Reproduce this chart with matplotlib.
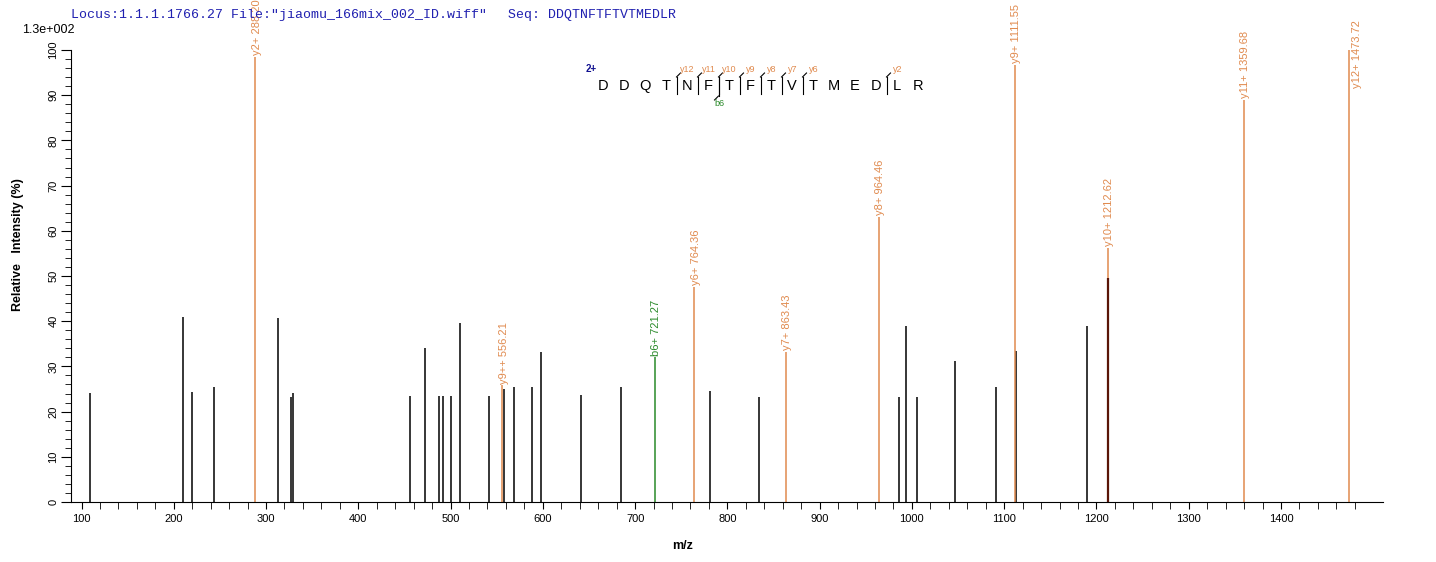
import numpy as np
import matplotlib
matplotlib.use('Agg')
from matplotlib import pyplot as plt

plt.rcParams['font.family'] = ['Liberation Sans', 'DejaVu Sans']

# unassigned peaks (m/z, relative intensity %)
other_mz = [109.2, 210.0, 219.7, 243.6, 312.9, 327.0, 329.2, 456.0, 472.3, 487.4,
            491.8, 500.4, 510.2, 541.6, 557.5, 568.7, 588.0, 598.0, 641.4, 684.7,
            781.0, 834.0, 986.0, 993.6, 1005.5, 1046.7, 1091.0, 1112.5, 1189.8]
other_int = [24.1, 41.0, 24.3, 25.4, 40.7, 23.2, 24.1, 23.4, 34.0, 23.4,
             23.4, 23.4, 39.6, 23.4, 25.0, 25.4, 25.4, 33.2, 23.6, 25.4,
             24.6, 23.2, 23.2, 39.0, 23.2, 31.2, 25.4, 33.4, 39.0]

# assigned fragment ions
ion_mz = [288.20, 556.21, 721.27, 764.36, 863.43, 964.46, 1111.55, 1212.62, 1359.68, 1473.72]
ion_int = [98.5, 25.8, 32.0, 47.6, 33.2, 63.0, 96.7, 56.2, 89.0, 100.0]
ion_name = ['y2+', 'y9++', 'b6+', 'y6+', 'y7+', 'y8+', 'y9+', 'y10+', 'y11+', 'y12+']

# dark peak under the y10+ annotation
dark_mz = [1212.9]
dark_int = [49.6]

sequence = 'DDQTNFTFTVTMEDLR'
y_sites = [4, 5, 6, 7, 8, 9, 10, 14]   # cleavage after residue index
y_labels = ['y12', 'y11', 'y10', 'y9', 'y8', 'y7', 'y6', 'y2']
b_sites = [6]
b_labels = ['b6']

orange = '#E08A4E'
green = '#2A8A2A'
blue = '#2020B0'

W, H = 1436, 562
fig = plt.figure(figsize=(W / 100., H / 100.), dpi=100)
ax = fig.add_axes([71 / W, 1 - 502 / H, (1383 - 71) / W, 502 / H])

ax.vlines(other_mz, 0, other_int, color='k', lw=1.1)
for mz, it, nm in zip(ion_mz, ion_int, ion_name):
    col = green if nm.startswith('b') else orange
    ax.vlines(mz, 0, it, color=col, lw=1.1)
ax.vlines(dark_mz, 0, dark_int, color='#5A1508', lw=1.6)

for mz, it, nm in zip(ion_mz, ion_int, ion_name):
    col = green if nm.startswith('b') else orange
    if nm == 'y12+':
        ax.text(mz + 9, 91.5, '%s %.2f' % (nm, mz), rotation=90, ha='center', va='bottom',
                fontsize=8, color=col)
    else:
        ax.text(mz + 1.5, it + 0.4, '%s %.2f' % (nm, mz), rotation=90, ha='center', va='bottom',
                fontsize=8, color=col, clip_on=False)

ax.set_xlim(88.6, 1510.6)
ax.set_ylim(0, 502 / 4.52)
for s in ['top', 'right']:
    ax.spines[s].set_visible(False)
ax.spines['left'].set_bounds(0, 100)
ax.set_xticks(np.arange(100, 1401, 100))
ax.set_xticks(np.arange(100, 1500, 20), minor=True)
ax.set_yticks(np.arange(0, 101, 10))
ax.set_yticks(np.arange(0, 101, 2), minor=True)
ax.tick_params(axis='x', which='both', length=5, labelsize=8, pad=4)
ax.tick_params(axis='y', which='major', length=7, labelsize=8, labelrotation=90, pad=2)
ax.tick_params(axis='y', which='minor', length=4)
for lb in ax.get_yticklabels():
    lb.set_va('center')

ax.set_xlabel('m/z', fontsize=9, fontweight='bold')
ax.set_ylabel('Relative   Intensity (%)', fontsize=9, fontweight='bold')
ax.xaxis.set_label_coords((683 - 71) / (1383 - 71), -38 / 502)
ax.yaxis.set_label_coords(-47 / (1383 - 71), 257 / 502)

# header
fig.text(71 / W, 1 - 15 / H, 'Locus:1.1.1.1766.27 File:"jiaomu_166mix_002_ID.wiff"',
         family=['Liberation Mono', 'DejaVu Sans Mono'], fontsize=9.5, color=blue, va='center')
fig.text(508 / W, 1 - 15 / H, 'Seq: DDQTNFTFTVTMEDLR',
         family=['Liberation Mono', 'DejaVu Sans Mono'], fontsize=9.5, color=blue, va='center')
fig.text(22 / W, 1 - 30 / H, '1.3e+002', fontsize=9, va='center')

# sequence annotation
x0, dx, yl = 603, 21.0, 86
for i, aa in enumerate(sequence):
    fig.text((x0 + i * dx) / W, 1 - yl / H, aa, fontsize=10.5, ha='center', va='center')
fig.text(591 / W, 1 - 69 / H, '2+', fontsize=7, color='#101090', fontweight='bold',
         ha='center', va='center')


def fx(px):
    return px / W


def fy(py):
    return 1 - py / H


for site, lab in zip(y_sites, y_labels):
    xc = x0 + (site - 0.5) * dx
    fig.add_artist(plt.Line2D([fx(xc), fx(xc)], [fy(94), fy(77)], color='k', lw=0.8))
    fig.add_artist(plt.Line2D([fx(xc), fx(xc + 4)], [fy(77), fy(73)], color='k', lw=0.8))
    fig.text(fx(xc + 11), fy(69), lab, fontsize=6.5, color=orange, ha='center', va='center')
for site, lab in zip(b_sites, b_labels):
    xc = x0 + (site - 0.5) * dx
    fig.add_artist(plt.Line2D([fx(xc), fx(xc)], [fy(77), fy(96)], color='k', lw=0.8))
    fig.add_artist(plt.Line2D([fx(xc), fx(xc - 4)], [fy(96), fy(100)], color='k', lw=0.8))
    fig.text(fx(xc + 1), fy(104), lab, fontsize=6.5, color=green, ha='center', va='center')

fig.savefig('out.png', dpi=100)
